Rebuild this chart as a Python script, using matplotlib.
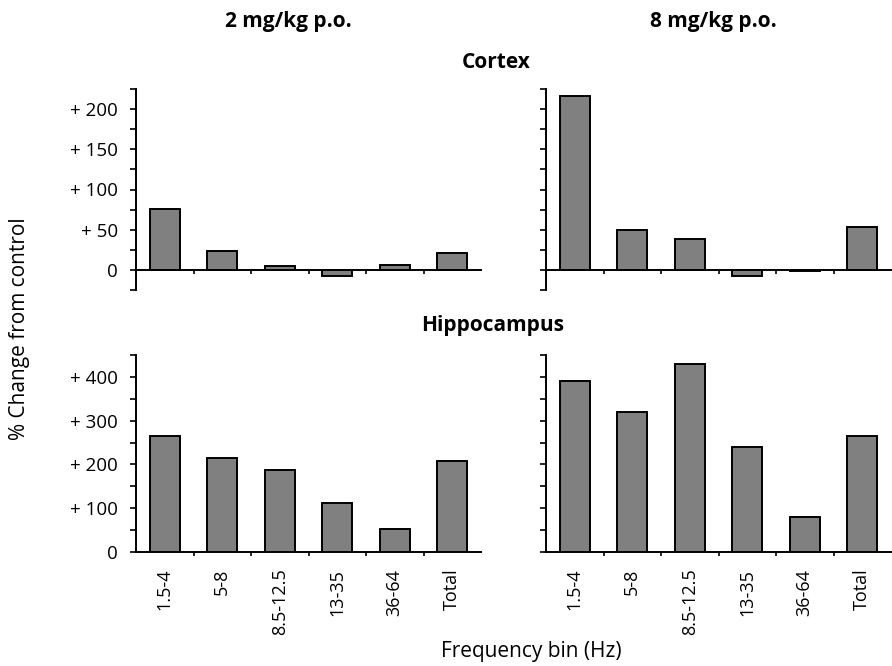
import numpy as np
import matplotlib
matplotlib.use("Agg")
import matplotlib.pyplot as plt
from matplotlib.ticker import MultipleLocator, FixedLocator, FuncFormatter

plt.rcParams['font.family'] = ['Open Sans', 'DejaVu Sans']

# data (% change from control)
bins = ['1.5-4', '5-8', '8.5-12.5', '13-35', '36-64', 'Total']
cortex_2mg = [76, 23, 5, -8, 6, 21]
cortex_8mg = [216, 50, 39, -7, -1, 53]
hippo_2mg = [266, 215, 188, 113, 53, 207]
hippo_8mg = [391, 320, 430, 240, 81, 264]

doses = ['2 mg/kg p.o.', '8 mg/kg p.o.']

fig = plt.figure(figsize=(8.92, 6.66), dpi=100)

left_x = [136 / 892, 546 / 892]
w = 345 / 892
top_rect = (1 - 290 / 666, 201 / 666)
bot_rect = (1 - 552 / 666, 197 / 666)

bar_color = '#808080'
x = np.arange(len(bins))


def fmt_plus(v, pos):
    v = int(round(v))
    return '0' if v == 0 else '+ %d' % v


def style(ax, major, minor, show_labels, rotated_labels):
    ax.set_xlim(-0.5, len(bins) - 0.5)
    for s in ['top', 'right']:
        ax.spines[s].set_visible(False)
    ax.spines['bottom'].set_position(('data', 0))
    ax.spines['left'].set_linewidth(1.4)
    ax.spines['bottom'].set_linewidth(1.4)
    ax.yaxis.set_major_locator(MultipleLocator(major))
    ax.yaxis.set_minor_locator(MultipleLocator(minor))
    ax.tick_params(axis='y', which='both', direction='out', length=4, width=1.2, pad=9)
    if show_labels:
        ax.yaxis.set_major_formatter(FuncFormatter(fmt_plus))
        ax.tick_params(axis='y', labelsize=13.5)
    else:
        ax.set_yticklabels([])
    # boundary ticks on x, labels at centres
    ax.xaxis.set_minor_locator(FixedLocator(np.arange(0.5, len(bins) - 0.5, 1)))
    ax.tick_params(axis='x', which='minor', direction='out', length=3, width=1.2)
    ax.set_xticks(x)
    ax.tick_params(axis='x', which='major', length=0, pad=12)
    if rotated_labels:
        ax.set_xticklabels(bins, rotation=90, fontsize=13, va='top')
    else:
        ax.set_xticklabels([])


cortex = [cortex_2mg, cortex_8mg]
hippo = [hippo_2mg, hippo_8mg]

for i in range(2):
    ax = fig.add_axes([left_x[i], top_rect[0], w, top_rect[1]])
    ax.bar(x, cortex[i], width=0.52, color=bar_color, edgecolor='black', linewidth=1.4, zorder=3)
    style(ax, 50 if i == 0 else 25, 25, i == 0, False)
    ax.set_ylim(-25, 225)

    ax = fig.add_axes([left_x[i], bot_rect[0], w, bot_rect[1]])
    ax.bar(x, hippo[i], width=0.52, color=bar_color, edgecolor='black', linewidth=1.4, zorder=3)
    style(ax, 100 if i == 0 else 50, 50, i == 0, True)
    ax.set_ylim(0, 450)

# titles and labels
fig.text(288 / 892, 1 - 22 / 666, doses[0], ha='center', va='center', fontsize=15, fontweight='bold')
fig.text(713 / 892, 1 - 22 / 666, doses[1], ha='center', va='center', fontsize=15, fontweight='bold')
fig.text(496 / 892, 1 - 62 / 666, 'Cortex', ha='center', va='center', fontsize=15, fontweight='bold')
fig.text(493 / 892, 1 - 326 / 666, 'Hippocampus', ha='center', va='center', fontsize=15, fontweight='bold')
fig.text(20 / 892, 1 - 329 / 666, '% Change from control', ha='center', va='center',
         rotation=90, fontsize=15)
fig.text(531 / 892, 1 - 652 / 666, 'Frequency bin (Hz)', ha='center', va='center', fontsize=15)

fig.savefig('out.png', dpi=100)
